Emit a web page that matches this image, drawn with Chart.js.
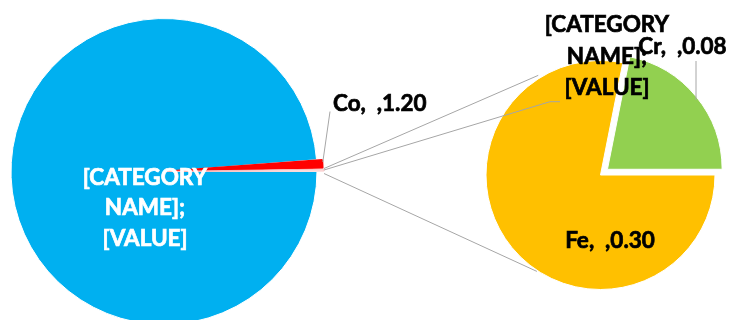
<!DOCTYPE html>
<html><head><meta charset="utf-8">
<script src="https://cdn.jsdelivr.net/npm/chart.js@4.4.1/dist/chart.umd.min.js"></script>
<style>
html,body{margin:0;padding:0;background:#fff;width:732px;height:320px;overflow:hidden;}
canvas{position:absolute;left:0;top:0;}
</style></head><body>
<canvas id="c1" width="732" height="320"></canvas>
<canvas id="c2" width="732" height="320"></canvas>
<script>
// ---- data ----
const mainCategories = ['[CATEGORY NAME]', 'Co', 'Other'];
const mainValues = [128, 1.20, 0.384];
const secondCategories = ['Fe', 'Cr'];
const secondValues = [0.30, 0.084];
const mainColors = ['#00B0F0', '#FF0000', '#FFFFFF'];
const secondColors = ['#FFC000', '#92D050'];
const placeholderLines = ['[CATEGORY', 'NAME];', '[VALUE]'];

const FONT = 'bold 22.5px Lato, "Open Sans", sans-serif';
const LINE = '#A6A6A6';
function fmt(cat, v) { return cat + ',  ,' + v.toFixed(2); }

const chart1 = new Chart(document.getElementById('c1'), {
  type: 'pie',
  data: { labels: mainCategories, datasets: [{ data: mainValues, backgroundColor: mainColors,
    borderColor: ['#FFFFFF', '#FF0000', '#F8B8B8'], borderWidth: [1, 1.5, 1], offset: [0, 12, 14], clip: false }] },
  options: { responsive: false, animation: false, rotation: 90, radius: 153,
    layout: { padding: { left: 0, right: 404, top: 23, bottom: 0 } },
    plugins: { legend: { display: false }, tooltip: { enabled: false } }, events: [] }
});

function drawText(ctx, t, x, y, color) {
  ctx.fillStyle = color; ctx.strokeStyle = color; ctx.lineWidth = 0.7;
  ctx.strokeText(t, x, y);
  ctx.fillText(t, x, y);
}

const overlay = {
  id: 'overlay',
  afterDraw(chart) {
    const ctx = chart.ctx;
    const m = chart1.getDatasetMeta(0).data;
    const s = chart.getDatasetMeta(0).data;
    const mc = { x: m[0].x, y: m[0].y, r: m[0].outerRadius };
    const sc = { x: s[0].x, y: s[0].y, r: s[0].outerRadius };
    function tip(arc, a, extra) {
      const off = (arc.options.offset || 0) / 2;
      const R = arc.outerRadius + off + (extra || 0);
      return { x: arc.x + Math.cos(a) * R, y: arc.y + Math.sin(a) * R };
    }
    const other = m[2], co = m[1];
    const oStart = tip(other, other.startAngle, 0);
    const oEnd = tip(other, other.endAngle, 0);
    const oMid = tip(other, (other.startAngle + other.endAngle) / 2, 0);
    const coMid = tip(co, (co.startAngle + co.endAngle) / 2, 0);
    const deg = Math.PI / 180;
    ctx.save();
    ctx.strokeStyle = LINE; ctx.lineWidth = 1;
    ctx.beginPath();
    // series lines to second pie
    ctx.moveTo(oStart.x, oStart.y);
    ctx.lineTo(sc.x + Math.cos(238 * deg) * (sc.r + 3), sc.y + Math.sin(238 * deg) * (sc.r + 3));
    ctx.moveTo(oEnd.x, oEnd.y + 2);
    ctx.lineTo(sc.x + Math.cos(123.4 * deg) * (sc.r + 1), sc.y + Math.sin(123.4 * deg) * (sc.r + 1));
    // leader for "other" label
    ctx.moveTo(oMid.x, oMid.y);
    ctx.lineTo(sc.x - 50.5, sc.y - 73.3);
    ctx.lineTo(sc.x - 40.5, sc.y - 73.3);
    // leader for Co label
    ctx.moveTo(coMid.x, coMid.y - 2);
    ctx.lineTo(mc.x + 166, mc.y - 60);
    // leader for Cr label
    ctx.moveTo(sc.x + 95.5, sc.y - 75);
    ctx.lineTo(sc.x + 95.5, sc.y - 114);
    ctx.stroke();

    ctx.font = FONT;
    ctx.textBaseline = 'middle';
    // main big slice label (white)
    ctx.textAlign = 'center';
    placeholderLines.forEach((t, i) => drawText(ctx, t, mc.x - 19, mc.y + 6 + i * 30.5, '#FFFFFF'));
    // Co label
    ctx.textAlign = 'left';
    drawText(ctx, fmt(mainCategories[1], mainValues[1]), mc.x + 169, mc.y - 68, '#000000');
    // other label
    ctx.textAlign = 'center';
    placeholderLines.forEach((t, i) => drawText(ctx, t, sc.x + 6.5, sc.y - 150 + i * 31.5, '#000000'));
    // Fe / Cr labels
    drawText(ctx, fmt(secondCategories[0], secondValues[0]), sc.x + 9.5, sc.y + 66, '#000000');
    drawText(ctx, fmt(secondCategories[1], secondValues[1]), sc.x + 82, sc.y - 128, '#000000');
    ctx.restore();
  }
};

const chart2 = new Chart(document.getElementById('c2'), {
  type: 'pie',
  data: { labels: secondCategories, datasets: [{ data: secondValues, backgroundColor: secondColors,
    borderColor: '#FFFFFF', borderWidth: 1, offset: [0, 36], clip: false }] },
  options: { responsive: false, animation: false, rotation: 90, radius: 114.5,
    layout: { padding: { left: 486, right: 17, top: 60.5, bottom: 30.5 } },
    plugins: { legend: { display: false }, tooltip: { enabled: false } }, events: [] },
  plugins: [overlay]
});
</script>
</body></html>
